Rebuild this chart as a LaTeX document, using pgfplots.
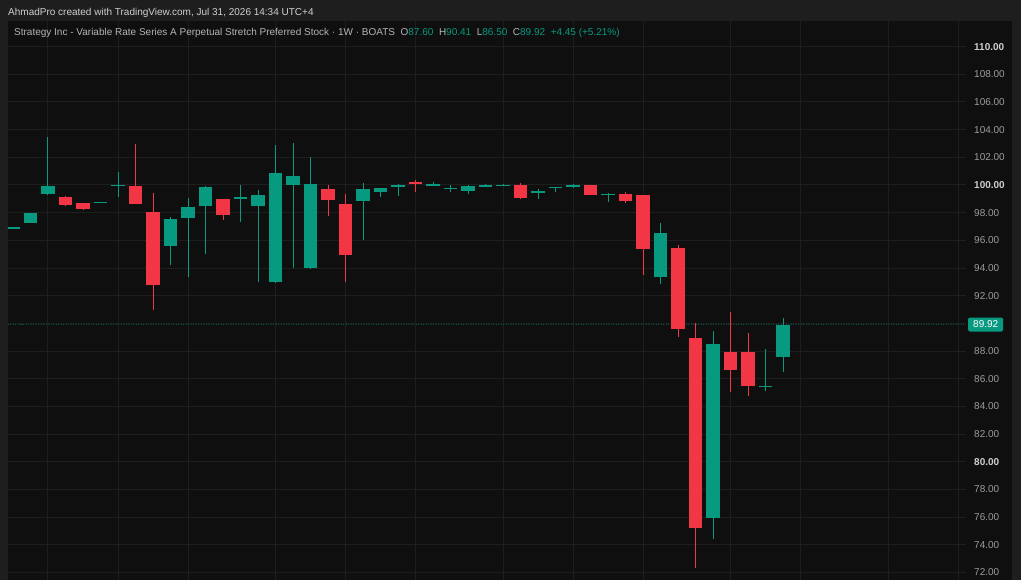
\documentclass[border=0pt]{standalone}
\usepackage{fontspec}
\setmainfont{Liberation Sans}
\usepackage{xcolor}
\usepackage{pgfplots}
\usepackage{pgfplotstable}
\pgfplotsset{compat=1.18}

\definecolor{outer}{HTML}{1E1E1E}
\definecolor{panel}{HTML}{0F0F0F}
\definecolor{gridc}{HTML}{1E1E1E}
\definecolor{upc}{HTML}{089981}
\definecolor{dnc}{HTML}{F23645}
\definecolor{tickc}{HTML}{9C9C9C}
\definecolor{tickb}{HTML}{CFCFCF}
\definecolor{head}{HTML}{D0D0D0}
\definecolor{sub}{HTML}{B4B4B4}

\newcommand{\bt}[1]{{\color{tickb}\bfseries #1}}

% weekly candles, i = week index
\pgfplotstableread{
i o h l c
0 96.90 96.95 96.88 96.93
1 97.28 98.00 97.25 97.95
2 99.33 103.45 99.30 99.95
5 98.73 98.77 98.72 98.76
6 99.96 100.96 99.16 100.00
9 95.59 97.67 94.24 97.52
10 97.59 99.04 93.37 98.43
11 98.51 99.90 94.99 99.83
13 98.97 100.00 97.30 99.11
14 98.45 99.64 93.01 99.25
15 92.99 102.89 92.95 100.84
16 99.98 103.06 93.98 100.67
17 93.98 102.05 93.95 100.07
20 98.87 100.12 96.03 99.71
21 99.47 99.80 99.16 99.76
22 99.83 100.07 99.21 99.98
24 99.98 100.20 99.90 100.07
25 99.71 99.98 99.52 99.80
26 99.54 100.00 99.35 99.95
27 99.88 100.05 99.85 100.00
28 99.95 100.08 99.93 100.03
30 99.47 99.71 98.99 99.57
31 99.78 99.88 99.47 99.86
32 99.90 100.05 99.78 100.00
34 99.30 99.40 98.80 99.37
37 93.37 97.28 92.82 96.56
40 75.96 89.45 74.40 88.49
43 85.40 88.13 85.12 85.50
44 87.60 90.41 86.50 89.92
}\up

\pgfplotstableread{
i o h l c
3 99.16 99.20 98.50 98.53
4 98.70 98.72 98.22 98.24
7 99.93 102.96 98.60 98.65
8 98.07 99.44 91.00 92.77
12 98.97 99.00 97.47 97.83
18 99.73 100.00 97.76 98.92
19 98.60 99.33 93.00 94.94
23 100.20 100.36 99.47 100.05
29 99.98 100.12 99.00 99.04
33 99.98 100.00 99.25 99.30
35 99.35 99.47 98.68 98.84
36 99.28 99.30 93.50 95.35
38 95.47 95.64 89.00 89.57
39 88.97 90.05 72.35 75.24
41 87.96 90.80 85.02 86.61
42 87.96 89.33 84.78 85.45
}\down

\pgfplotsset{
  wick/.style={draw=none, no markers, forget plot,
    error bars/.cd, y dir=both, y explicit, error mark=none,
    error bar style={line width=1pt, draw=#1}},
  body/.style={draw=none, no markers, forget plot,
    error bars/.cd, y dir=both, y explicit, error mark=none,
    error bar style={line width=13.5pt, draw=#1}},
}

\begin{document}
\begin{tikzpicture}[x=1pt,y=1pt]
\fill[outer] (0,0) rectangle (1021,580);
\fill[panel] (8,0) rectangle (1012,559);

\begin{axis}[
  at={(8pt,0pt)}, anchor=south west,
  scale only axis, width=958pt, height=559pt,
  xmin=-0.2857, xmax=54.457, ymin=71.46, ymax=111.85,
  axis line style={draw=none},
  major tick length=0pt,
  xtick={2,6,10,15,19,23,28,32,36,41,45,50,54},
  xticklabels={},
  ytick={72,74,...,110},
  ytick pos=right, yticklabel pos=right,
  yticklabels={72.00,74.00,76.00,78.00,\bt{80.00},82.00,84.00,86.00,88.00,,92.00,94.00,96.00,98.00,\bt{100.00},102.00,104.00,106.00,108.00,\bt{110.00}},
  yticklabel style={anchor=west, inner sep=0pt, xshift=8pt, text=tickc, font=\fontsize{10}{12}\selectfont},
  grid=major,
  grid style={draw=gridc, line width=1pt},
]
\addplot[forget plot, upc!55!black, line width=1pt, dash pattern=on 1pt off 1.5pt]
  coordinates {(-0.2857,89.92) (54.457,89.92)};
\addplot[wick=upc] table[x=i, y expr={(\thisrow{h}+\thisrow{l})/2}, y error expr={(\thisrow{h}-\thisrow{l})/2}] {\up};
\addplot[wick=dnc] table[x=i, y expr={(\thisrow{h}+\thisrow{l})/2}, y error expr={(\thisrow{h}-\thisrow{l})/2}] {\down};
\addplot[body=upc] table[x=i, y expr={(\thisrow{o}+\thisrow{c})/2}, y error expr={max(abs(\thisrow{c}-\thisrow{o})/2,0.04)}] {\up};
\addplot[body=dnc] table[x=i, y expr={(\thisrow{o}+\thisrow{c})/2}, y error expr={max(abs(\thisrow{c}-\thisrow{o})/2,0.04)}] {\down};
\coordinate (cp) at (axis cs:54.457,89.92);
\end{axis}

\node[anchor=west, xshift=2pt, fill=upc, text=white, inner xsep=5pt, inner ysep=0pt,
  minimum height=14pt, rounded corners=1.5pt, font=\fontsize{10}{12}\selectfont] at (cp) {89.92};

\node[anchor=base west, inner sep=0pt, text=head, font=\fontsize{10}{12}\selectfont]
  at (8,564) {AhmadPro created with TradingView.com, Jul 31, 2026 14:34 UTC+4};
\node[anchor=base west, inner sep=0pt, text=sub, font=\fontsize{10}{12}\selectfont]
  at (14,544) {Strategy Inc - Variable Rate Series A Perpetual Stretch Preferred Stock · 1W · BOATS\ \
  O\textcolor{upc}{87.60}\ \ H\textcolor{upc}{90.41}\ \ L\textcolor{upc}{86.50}\ \ C\textcolor{upc}{89.92}\ \ \textcolor{upc}{+4.45 (+5.21\%)}};

\pgfresetboundingbox
\path[use as bounding box] (0,0) rectangle (1021,580);
\end{tikzpicture}
\end{document}
